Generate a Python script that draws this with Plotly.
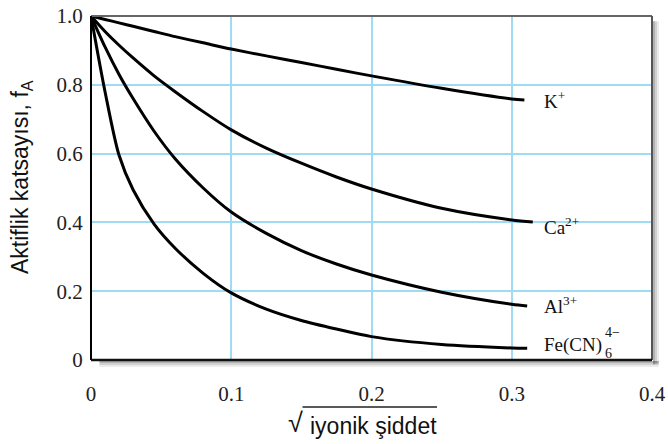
import plotly.graph_objects as go

# ---- data ----
x_common = [0, 0.01, 0.02, 0.03, 0.045, 0.06, 0.08, 0.1, 0.125, 0.15, 0.175, 0.2, 0.25, 0.3]

k_end = 0.309
k_vals = [1.0, 0.99, 0.98, 0.97, 0.955, 0.94, 0.922, 0.904, 0.884, 0.865, 0.845, 0.826, 0.79, 0.759, 0.756]

ca_end = 0.315
ca_vals = [1.0, 0.955, 0.915, 0.878, 0.826, 0.78, 0.722, 0.669, 0.616, 0.572, 0.532, 0.497, 0.441, 0.407, 0.401]

al_end = 0.311
al_vals = [1.0, 0.91, 0.83, 0.76, 0.665, 0.585, 0.50, 0.43, 0.368, 0.318, 0.279, 0.247, 0.197, 0.162, 0.157]

fe_end = 0.311
fe_vals = [1.0, 0.78, 0.595, 0.495, 0.395, 0.325, 0.252, 0.195, 0.148, 0.115, 0.09, 0.068, 0.045, 0.035, 0.034]

x_ticks = [0, 0.1, 0.2, 0.3, 0.4]
x_ticktext = ["0", "0.1", "0.2", "0.3", "0.4"]
y_ticks = [0, 0.2, 0.4, 0.6, 0.8, 1.0]
y_ticktext = ["0", "0.2", "0.4", "0.6", "0.8", "1.0"]

series = [
    ("K+", k_vals, k_end),
    ("Ca2+", ca_vals, ca_end),
    ("Al3+", al_vals, al_end),
    ("Fe(CN)6 4-", fe_vals, fe_end),
]

SERIF = "Liberation Serif"
SANS = "Liberation Sans"

fig = go.Figure()
for name, vals, xend in series:
    fig.add_trace(go.Scatter(
        x=x_common + [xend], y=vals, mode="lines", name=name,
        line=dict(color="black", width=3, shape="spline", smoothing=0.8),
        showlegend=False, hoverinfo="skip",
    ))

grid_color = "#9fdcf4"
fig.update_layout(
    width=668, height=444,
    margin=dict(l=91, r=16, t=16, b=84, autoexpand=False),
    paper_bgcolor="white", plot_bgcolor="white",
    xaxis=dict(
        range=[0, 0.4], tickvals=x_ticks, ticktext=x_ticktext,
        showgrid=True, gridcolor=grid_color, gridwidth=1.5,
        zeroline=False, showline=False, ticklabeloverflow="allow",
        ticks="outside", ticklen=15, tickcolor="rgba(0,0,0,0)",
        tickfont=dict(family=SERIF, size=21, color="#222"),
    ),
    yaxis=dict(
        range=[0, 1.0], tickvals=y_ticks, ticktext=y_ticktext,
        showgrid=True, gridcolor=grid_color, gridwidth=1.5,
        zeroline=False, showline=False, ticklabeloverflow="allow",
        ticks="outside", ticklen=3, tickcolor="rgba(0,0,0,0)",
        tickfont=dict(family=SERIF, size=21, color="#222"),
    ),
)

# frame: shadow, gray top/right border, black left/bottom axes
shapes = []
for off, alpha in [(1, 0.30), (3, 0.18), (5, 0.08)]:
    shapes.append(dict(type="rect", xref="paper", yref="paper",
                       xsizemode="pixel", xanchor=1, x0=off, x1=off + 2,
                       y0=-0.012, y1=0.985, line=dict(width=0),
                       fillcolor=f"rgba(0,0,0,{alpha})", layer="below"))
    shapes.append(dict(type="rect", xref="paper", yref="paper",
                       ysizemode="pixel", yanchor=0, y0=-off, y1=-off - 2,
                       x0=0.015, x1=1.012, line=dict(width=0),
                       fillcolor=f"rgba(0,0,0,{alpha})", layer="below"))
shapes += [
    dict(type="line", xref="paper", yref="paper", x0=0, x1=1, y0=1, y1=1,
         line=dict(color="#666", width=2)),
    dict(type="line", xref="paper", yref="paper", x0=1, x1=1, y0=0, y1=1,
         line=dict(color="#555", width=2)),
    dict(type="line", xref="paper", yref="paper", x0=0, x1=0, y0=0, y1=1,
         line=dict(color="black", width=2)),
    dict(type="line", xref="paper", yref="paper", x0=0, x1=1, y0=0, y1=0,
         line=dict(color="#111", width=2.5)),
    # overline of the square-root sign in the x title
    dict(type="line", xref="paper", yref="paper", x0=0.377, x1=0.6168,
         y0=-0.1366, y1=-0.1366, line=dict(color="#222", width=1.3)),
]
fig.update_layout(shapes=shapes)

ann = []
lab_font = dict(family=SERIF, size=19, color="#111")
ann.append(dict(x=0.3214, y=0.756, xref="x", yref="y", text="K<sup>+</sup>",
                showarrow=False, xanchor="left", yanchor="middle", font=lab_font))
ann.append(dict(x=0.3214, y=0.39, xref="x", yref="y", text="Ca<sup>2+</sup>",
                showarrow=False, xanchor="left", yanchor="middle", font=lab_font))
ann.append(dict(x=0.3214, y=0.16, xref="x", yref="y", text="Al<sup>3+</sup>",
                showarrow=False, xanchor="left", yanchor="middle", font=lab_font))
ann.append(dict(x=0.3214, y=0.044, xref="x", yref="y", text="Fe(CN)",
                showarrow=False, xanchor="left", yanchor="middle", font=lab_font))
ann.append(dict(x=0.365, y=0.080, xref="x", yref="y", text="4−",
                showarrow=False, xanchor="left", yanchor="middle",
                font=dict(family=SERIF, size=14, color="#111")))
ann.append(dict(x=0.365, y=0.018, xref="x", yref="y", text="6",
                showarrow=False, xanchor="left", yanchor="middle",
                font=dict(family=SERIF, size=14, color="#111")))
# axis titles
ann.append(dict(x=0, y=0.532, xref="paper", yref="paper", xshift=-69,
                text="Aktiflik katsayısı, f<sub>A</sub>", textangle=-90,
                showarrow=False, xanchor="center", yanchor="middle",
                font=dict(family=SANS, size=23, color="#111")))
ann.append(dict(x=0.5027, y=-0.192, xref="paper", yref="paper",
                text="iyonik şiddet", showarrow=False,
                xanchor="center", yanchor="middle",
                font=dict(family=SANS, size=23, color="#111")))
ann.append(dict(x=0.3654, y=-0.182, xref="paper", yref="paper",
                text="√", showarrow=False,
                xanchor="center", yanchor="middle",
                font=dict(family=SANS, size=27, color="#111")))
fig.update_layout(annotations=ann)

# remove the default 8px page margin so the figure fills the window exactly
fig.write_html("out.html", config={"displayModeBar": False},
               post_script="document.body.style.margin='0px';")
